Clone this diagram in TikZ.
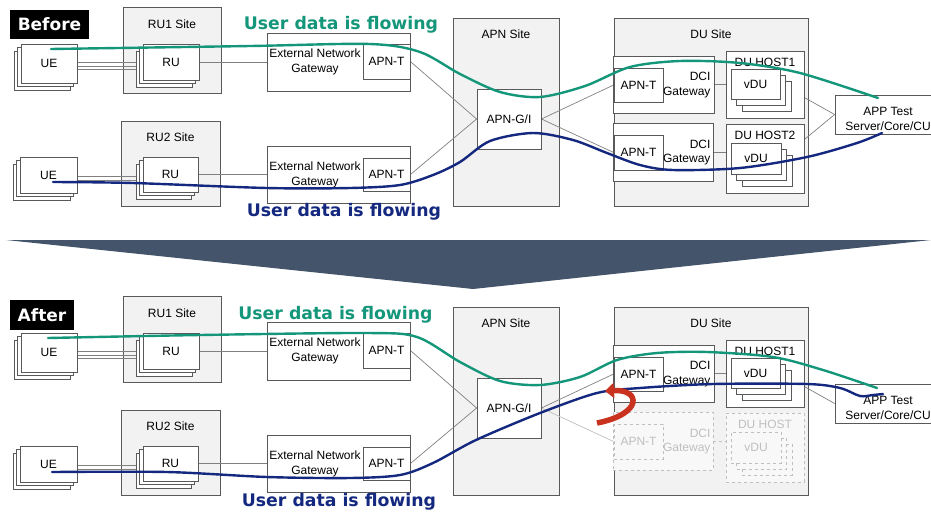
\documentclass[tikz,border=0pt]{standalone}
\usepackage{fontspec}
\setmainfont{Liberation Sans}
\newfontfamily\flowfont{DejaVu Sans}
\usetikzlibrary{shadows,arrows.meta}
\definecolor{bordc}{HTML}{595959}
\definecolor{sitec}{HTML}{F2F2F2}
\definecolor{linkc}{HTML}{808080}
\definecolor{ghostc}{HTML}{BFBFBF}
\definecolor{flowg}{HTML}{14967A}
\definecolor{flowb}{HTML}{14287F}
\definecolor{bandc}{HTML}{44546A}
\definecolor{turnc}{HTML}{C8321E}
\pgfdeclarelayer{bg}\pgfdeclarelayer{lk}\pgfsetlayers{bg,lk,main}

\begin{document}
\begin{tikzpicture}[x=1pt,y=-1pt,font=\fontsize{12}{14.5}\selectfont,
  site/.style={draw=bordc,fill=sitec,line width=.8pt,inner sep=0pt},
  box/.style={draw=bordc,fill=white,line width=.8pt,inner sep=0pt,align=center},
  lstack/.style={box,copy shadow={shadow xshift=-7pt,shadow yshift=-7pt},
    copy shadow={shadow xshift=-3.5pt,shadow yshift=-3.5pt}},
  rstack/.style={box,copy shadow={shadow xshift=11pt,shadow yshift=-12pt},
    copy shadow={shadow xshift=5.5pt,shadow yshift=-6pt}},
  ghost/.style={draw=ghostc,dashed,text=ghostc,fill=white!50!sitec},
  link/.style={draw=linkc,line width=.7pt},
  flow/.style={line width=2.4pt,line cap=round},
  flowtxt/.style={font=\flowfont\bfseries\fontsize{17.3}{20}\selectfont},
  tag/.style={fill=black,text=white,inner sep=0pt,
    font=\flowfont\bfseries\fontsize{17}{20}\selectfont}]
\useasboundingbox (0,0) rectangle (931,515);
% both halves share the same layout
\foreach \s/\dy in {b/0,a/289}{
\begin{scope}[shift={(0,\dy)}]
  \begin{pgfonlayer}{bg}
    \node[site,minimum width=98pt,minimum height=86pt] (\s-ru1s) at (172,50) {};
    \node[site,minimum width=99pt,minimum height=85pt] (\s-ru2s) at (170.5,163.5) {};
    \node[site,minimum width=106pt,minimum height=188pt] (\s-apns) at (506,112) {};
    \node[site,minimum width=194pt,minimum height=188pt] (\s-dus) at (711,112) {};
  \end{pgfonlayer}
  \node (\s-ru1l) at (172,24) {RU1 Site};
  \node (\s-ru2l) at (170.5,137) {RU2 Site};
  \node (\s-apnl) at (506,34) {APN Site};
  \node (\s-dul) at (711,34) {DU Site};
  \node[lstack,minimum width=56pt,minimum height=39pt] (\s-ue1) at (49,63.5) {UE};
  \node[lstack,minimum width=57pt,minimum height=36pt] (\s-ue2) at (48.5,175) {UE};
  \node[lstack,minimum width=56pt,minimum height=36pt] (\s-ru1) at (171,62) {RU};
  \node[lstack,minimum width=55pt,minimum height=35pt] (\s-ru2) at (170.5,174.5) {RU};
  \node[box,minimum width=143pt,minimum height=58pt] (\s-gw1) at (338.5,62) {};
  \node[box,minimum width=143pt,minimum height=57pt] (\s-gw2) at (338.5,174.5) {};
  \node[box,minimum width=47pt,minimum height=35pt] (\s-apnt1) at (386.5,61.5) {APN-T};
  \node[box,minimum width=47pt,minimum height=33pt] (\s-apnt2) at (386.5,174.5) {APN-T};
  \node[align=center] (\s-gw1l) at (315,62) {External Network\\Gateway};
  \node[align=center] (\s-gw2l) at (315,175) {External Network\\Gateway};
  \node[box,minimum width=64pt,minimum height=60pt] (\s-apngi) at (509,119) {APN-G/I};
  \node[box,minimum width=101pt,minimum height=57pt] (\s-dci1) at (663.5,84.5) {};
  \node[box,minimum width=49pt,minimum height=34pt] (\s-apnt3) at (638.5,85) {APN-T};
  \node[align=right,anchor=east] (\s-dci1l) at (714,85) {DCI\\Gateway};
  \node[box,minimum width=78pt,minimum height=67pt] (\s-host1) at (765,84.5) {};
  \node (\s-host1l) at (765,62) {DU HOST1};
  \node[rstack,minimum width=49pt,minimum height=30pt] (\s-vdu1) at (755.5,84) {vDU};
  \node[box,minimum width=100pt,minimum height=39pt] (\s-app) at (885,114.5) {};
  \node[align=center] (\s-appl) at (888,119) {APP Test\\Server/Core/CU};
  \begin{pgfonlayer}{lk}
    \draw[link] ([yshift=1.5pt]\s-ue1.east) -- ([yshift=1.5pt]\s-ue1.east -| \s-ru1.west);
    \draw[link] ([yshift=-3pt]\s-ue1.east) -- ([yshift=-3pt]\s-ue1.east -| \s-ru1.west);
    \draw[link] ([yshift=-5.5pt]\s-ue1.east) -- ([yshift=-5.5pt]\s-ue1.east -| \s-ru1.west);
    \draw[link] ([yshift=-1pt]\s-ue2.east) -- ([yshift=-1pt]\s-ue2.east -| \s-ru2.west);
    \draw[link] ([yshift=-5pt]\s-ue2.east) -- ([yshift=-5pt]\s-ue2.east -| \s-ru2.west);
    \draw[link] (\s-ru1.east) -- (\s-ru1.east -| \s-gw1.west);
    \draw[link] (\s-ru2.east) -- (\s-ru2.east -| \s-gw2.west);
    \draw[link] (\s-apnt1.east) -- (\s-apngi.west);
    \draw[link] (\s-apnt2.east) -- (\s-apngi.west);
    \draw[link] (\s-apngi.east) -- (\s-apnt3.west);
    \draw[link] (\s-dci1.east) -- (\s-dci1.east -| \s-vdu1.west);
    \draw[link] (\s-vdu1.east) -- (\s-app.west);
  \end{pgfonlayer}
\end{scope}}
% lower DU part, before
\node[box,minimum width=100pt,minimum height=58pt] (b-dci2) at (663,152) {};
\node[box,minimum width=49pt,minimum height=35pt] (b-apnt4) at (638.5,152.5) {APN-T};
\node[align=right,anchor=east] (b-dci2l) at (714,152.5) {DCI\\Gateway};
\node[box,minimum width=78pt,minimum height=69pt] (b-host2) at (765,158.5) {};
\node (b-host2l) at (765,135) {DU HOST2};
\node[rstack,minimum width=50pt,minimum height=31pt] (b-vdu2) at (756,158.5) {vDU};
% lower DU part, after (removed)
\node[box,ghost,minimum width=100pt,minimum height=58pt] (a-dci2) at (663,441) {};
\node[box,ghost,minimum width=49pt,minimum height=35pt] (a-apnt4) at (638.5,441.5) {APN-T};
\node[align=right,anchor=east,text=ghostc] (a-dci2l) at (714,441.5) {DCI\\Gateway};
\node[box,ghost,minimum width=78pt,minimum height=69pt] (a-host2) at (765,447.5) {};
\node[text=ghostc] (a-host2l) at (765,424) {DU HOST};
\node[rstack,ghost,minimum width=50pt,minimum height=31pt] (a-vdu2) at (756,447.5) {vDU};
\begin{pgfonlayer}{lk}
  \draw[link] (b-apngi.east) -- (b-apnt4.west);
  \draw[link] (b-dci2.east) -- (b-dci2.east -| b-vdu2.west);
  \draw[link] (b-vdu2.east) -- (b-app.west);
  \draw[link,draw=ghostc] (a-apngi.east) -- (a-apnt4.west);
  \draw[link,draw=ghostc,dashed] (a-dci2.east) -- (a-dci2.east -| a-vdu2.west);
\end{pgfonlayer}
% user data
\draw[flow,flowg] plot[smooth] coordinates {(51,49) (250,46) (370,44) (420,52) (460,74)
  (500,92) (540,97) (585,86) (630,67) (680,61) (740,63) (800,73) (878,98)};
\draw[flow,flowb] plot[smooth] coordinates {(53,182) (133,183) (267,188) (350,188) (400,185)
  (433,175) (460,162) (490,141) (533,133) (573,140) (607,153) (640,165) (673,170) (740,168)
  (807,157) (857,143) (882,133)};
\draw[flow,flowg] plot[smooth] coordinates {(48,338) (200,335) (367,333) (417,337) (460,362)
  (500,381) (540,385) (580,377) (617,360) (657,353) (707,352) (773,357) (823,370) (877,388)};
\draw[flow,flowb] plot[smooth] coordinates {(52,472) (167,472) (267,477) (350,478) (400,475)
  (433,463) (476,440) (540,413) (597,393) (640,388) (713,384) (807,384) (840,388) (860,396)
  (873,395) (883,394)};
\node[flowtxt,text=flowg] (b-flowg) at (341,25) {User data is flowing};
\node[flowtxt,text=flowb] (b-flowb) at (344,212) {User data is flowing};
\node[flowtxt,text=flowg] (a-flowg) at (335.5,315) {User data is flowing};
\node[flowtxt,text=flowb] (a-flowb) at (339,502) {User data is flowing};
% switch-over
\draw[turnc,line width=5.5pt,-{Triangle[length=9pt,width=15pt]}]
  (597,423) .. controls (643,414) and (641,389) .. (605,391);
\fill[bandc] (6,240) -- (931,240) -- (473,289) -- cycle;
\node[tag,minimum width=79pt,minimum height=29pt] (before) at (49.5,24.5) {Before};
\node[tag,minimum width=64pt,minimum height=30pt] (after) at (42,315) {After};
\end{tikzpicture}
\end{document}
